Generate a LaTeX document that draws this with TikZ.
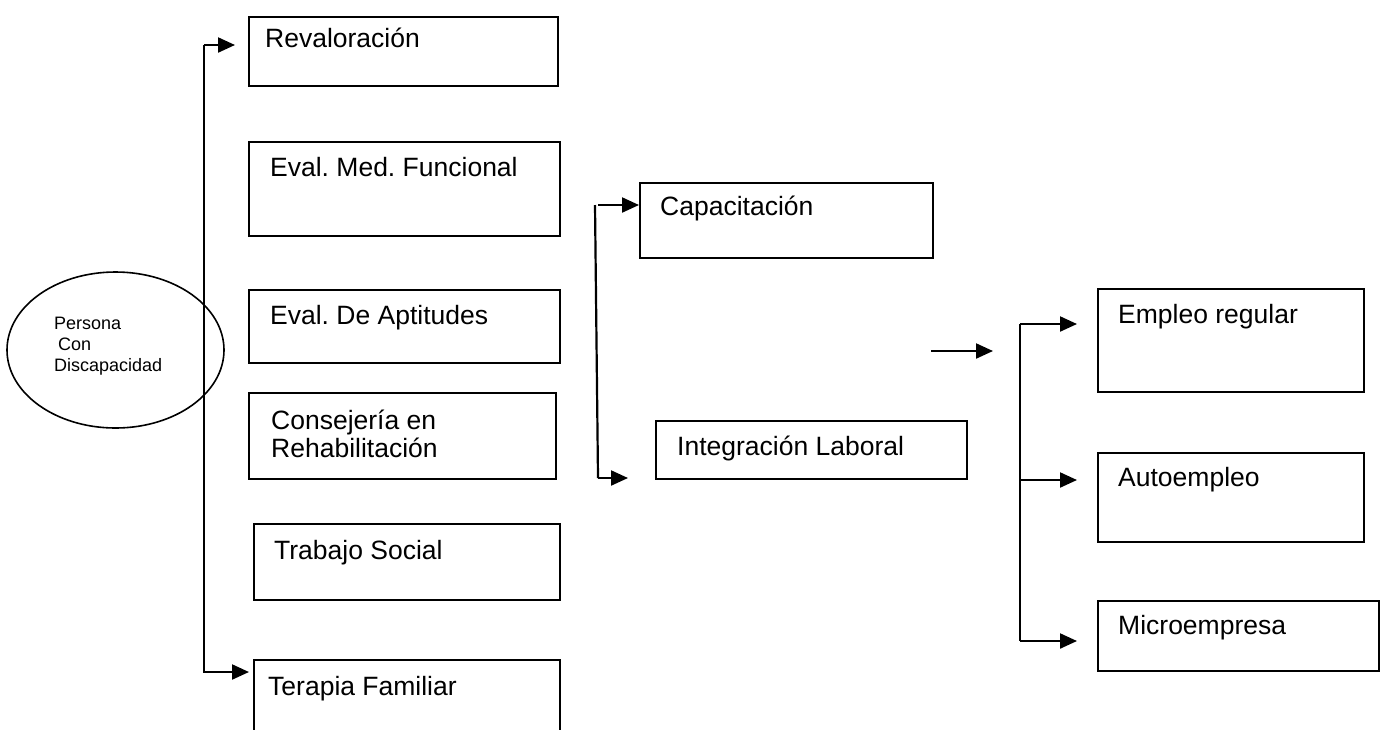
\documentclass[tikz,border=0pt]{standalone}
\usepackage{fontspec}
\setmainfont{Liberation Sans}
\frenchspacing
\usetikzlibrary{arrows.meta,shapes.geometric}

\tikzset{
  caja/.style={draw, line width=2pt, rectangle, anchor=north west, inner sep=0pt},
  rotulo/.style={anchor=base west, align=left, inner sep=0pt, font=\fontsize{26.5}{28}\selectfont},
  linea/.style={line width=2.2pt},
  flecha/.style={line width=2.2pt, -{Triangle[length=17pt,width=15pt]}},
}

\begin{document}
\begin{tikzpicture}[x=1pt,y=-1pt]
    \useasboundingbox (0,0) rectangle (1380,729);
    \clip (0,0) rectangle (1380,729);

    % Persona
    \node[draw, ellipse, line width=1.6pt, minimum width=217pt, minimum height=156pt] (persona) at (115.5,350) {};
    \node[rotulo, font=\fontsize{18}{21}\selectfont] (personaT) at (54,371) {Persona\\\hspace*{4pt}Con\\Discapacidad};

    % Primera columna
    \node[caja, minimum width=309pt, minimum height=69pt] (reval) at (248,16) {};
    \node[caja, minimum width=311pt, minimum height=94pt] (evalmed) at (248,141) {};
    \node[caja, minimum width=311pt, minimum height=73pt] (evalapt) at (248,289) {};
    \node[caja, minimum width=307pt, minimum height=86pt] (conse) at (248,392) {};
    \node[caja, minimum width=306pt, minimum height=76pt] (trab) at (253,523) {};
    \node[caja, minimum width=306pt, minimum height=120pt] (terap) at (253,659) {};

    \node[rotulo] (revalT) at (265,47) {Revaloración};
    \node[rotulo] (evalmedT) at (270,176) {Eval. Med. Funcional};
    \node[rotulo] (evalaptT) at (270,324) {Eval. De Aptitudes};
    \node[rotulo] (conseT) at (271,457) {Consejería en\\Rehabilitación};
    \node[rotulo] (trabT) at (274,559) {Trabajo Social};
    \node[rotulo] (terapT) at (268,695) {Terapia Familiar};

    % Segunda columna
    \node[caja, minimum width=293pt, minimum height=75pt] (capac) at (639,182) {};
    \node[caja, minimum width=311pt, minimum height=58pt] (integ) at (655,420) {};
    \node[rotulo] (capacT) at (660,215) {Capacitación};
    \node[rotulo] (integT) at (677,455) {Integración Laboral};

    % Tercera columna
    \node[caja, minimum width=266pt, minimum height=103pt] (empleo) at (1097,288) {};
    \node[caja, minimum width=266pt, minimum height=89pt] (auto) at (1097,452) {};
    \node[caja, minimum width=281pt, minimum height=70pt] (micro) at (1097,600) {};
    \node[rotulo] (empleoT) at (1118,323) {Empleo regular};
    \node[rotulo] (autoT) at (1118,486) {Autoempleo};
    \node[rotulo] (microT) at (1118,634) {Microempresa};

    % Flechas izquierda
    \coordinate (izqA) at (204,45);
    \coordinate (izqB) at (204,672);
    \draw[flecha, shorten >=13pt] (izqA) -- (reval.west |- izqA);
    \draw[flecha, shorten >=4pt] (izqA) -- (izqB) -- (terap.west |- izqB);

    % Flechas centro
    \coordinate (medA) at (595,205);
    \coordinate (medB) at (598,478);
    \draw[linea] (medA) -- (medB);
    \draw[flecha] ([xshift=3pt]medA) -- (capac.west |- medA);
    \draw[flecha, shorten >=27pt] (medB) -- (integ.west |- medB);

    % Flecha suelta
    \coordinate (sueltaA) at (931,351);
    \coordinate (sueltaB) at (993,351);
    \draw[flecha] (sueltaA) -- (sueltaB);

    % Flechas derecha
    \coordinate (derA) at (1020,324);
    \coordinate (derB) at (1020,480);
    \coordinate (derC) at (1020,641);
    \draw[linea] (derA) -- (derC);
    \foreach \c/\n in {derA/empleo, derB/auto, derC/micro}
        \draw[flecha, shorten >=20pt] (\c) -- (\n.west |- \c);
\end{tikzpicture}
\end{document}
